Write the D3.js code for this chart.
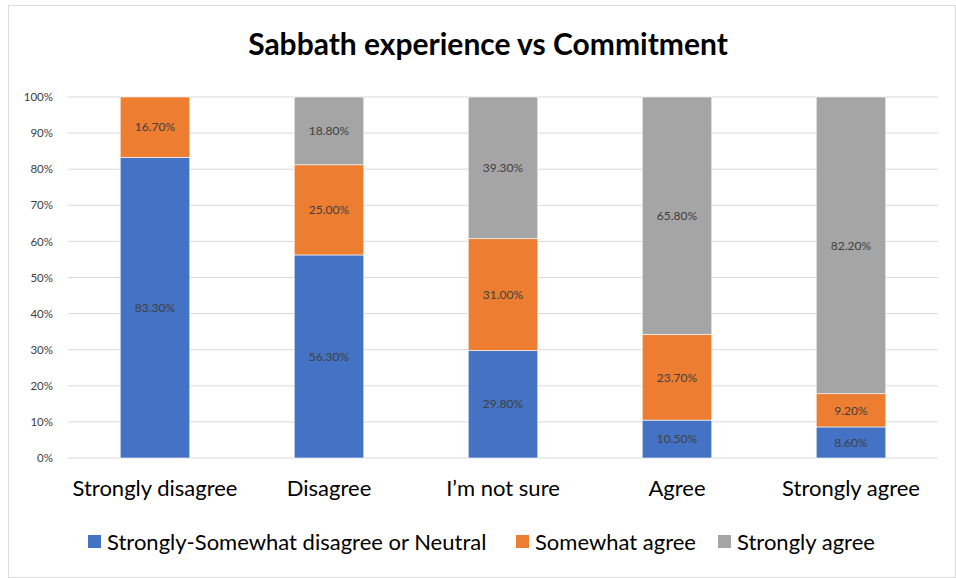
<!DOCTYPE html>
<html>
<head>
<meta charset="utf-8">
<script src="https://cdn.jsdelivr.net/npm/d3@7"></script>
<style>
  body { margin: 0; background: #fff; }
  svg { font-family: Lato, "Open Sans", sans-serif; }
</style>
</head>
<body>
<svg id="chart" width="956" height="578"></svg>
<script>
// data
var categories = ["Strongly disagree", "Disagree", "I\u2019m not sure", "Agree", "Strongly agree"];
var seriesNames = ["Strongly-Somewhat disagree or Neutral", "Somewhat agree", "Strongly agree"];
var neutralVals = [83.3, 56.3, 29.8, 10.5, 8.6];
var somewhatVals = [16.7, 25.0, 31.0, 23.7, 9.2];
var stronglyVals = [0, 18.8, 39.3, 65.8, 82.2];
var yTicks = [0, 10, 20, 30, 40, 50, 60, 70, 80, 90, 100];
var colors = ["#4472C4", "#ED7D31", "#A5A5A5"];

var svg = d3.select("#chart");
var W = 956, H = 578;
var margin = {top: 97, right: 18, bottom: 120, left: 68};

// chart border
svg.append("rect")
  .attr("x", 8.5).attr("y", 5.5)
  .attr("width", W - 9).attr("height", H - 6)
  .attr("fill", "none").attr("stroke", "#d9d9d9");

svg.append("text")
  .attr("x", 488).attr("y", 55)
  .attr("text-anchor", "middle")
  .attr("font-size", "30px").attr("font-weight", "bold")
  .attr("fill", "#000")
  .text("Sabbath experience vs Commitment");

var rows = categories.map(function (c, i) {
  return {cat: c, s0: neutralVals[i], s1: somewhatVals[i], s2: stronglyVals[i]};
});

var x = d3.scaleBand()
  .domain(categories)
  .range([margin.left, W - margin.right])
  .paddingInner(0.6).paddingOuter(0.3);

var y = d3.scaleLinear()
  .domain([0, 100])
  .range([458, margin.top]);

// grid
svg.append("g")
  .selectAll("line")
  .data(yTicks)
  .enter().append("line")
  .attr("x1", margin.left).attr("x2", W - margin.right)
  .attr("y1", function (d) { return y(d); })
  .attr("y2", function (d) { return y(d); })
  .attr("stroke", "#d9d9d9").attr("stroke-width", 1);

var yAxis = svg.append("g")
  .attr("transform", "translate(" + (margin.left - 12) + ",0)")
  .call(d3.axisLeft(y).tickValues(yTicks).tickSize(0).tickFormat(function (d) { return d + "%"; }));
yAxis.select(".domain").remove();
yAxis.selectAll("text").attr("font-size", "11.5px").attr("fill", "#404040")
  .attr("font-family", "Lato, 'Open Sans', sans-serif");

// normalise each column to 100%, like a 100% stacked chart
var keys = ["s0", "s1", "s2"];
var normRows = rows.map(function (r) {
  var t = r.s0 + r.s1 + r.s2;
  return {cat: r.cat, s0: r.s0 / t * 100, s1: r.s1 / t * 100, s2: r.s2 / t * 100,
          raw: r};
});
var stacked = d3.stack().keys(keys)(normRows);

var layer = svg.append("g").selectAll("g")
  .data(stacked)
  .enter().append("g")
  .attr("fill", function (d, i) { return colors[i]; });

layer.selectAll("rect")
  .data(function (d) { return d; })
  .enter().append("rect")
  .attr("x", function (d) { return x(d.data.cat); })
  .attr("width", x.bandwidth())
  .attr("y", function (d) { return y(d[1]); })
  .attr("height", function (d) { return y(d[0]) - y(d[1]); })
  .attr("stroke", "#fff").attr("stroke-width", 0.6);

// value labels
layer.each(function (s, si) {
  d3.select(this).selectAll("text")
    .data(s.filter(function (d) { return d.data.raw[keys[si]] > 0; }))
    .enter().append("text")
    .attr("x", function (d) { return x(d.data.cat) + x.bandwidth() / 2; })
    .attr("y", function (d) { return (y(d[0]) + y(d[1])) / 2; })
    .attr("dy", "0.35em")
    .attr("text-anchor", "middle")
    .attr("font-size", "12px")
    .attr("fill", "#404040")
    .text(function (d) { return d.data.raw[keys[si]].toFixed(2) + "%"; });
});

// category axis
var xAxis = svg.append("g")
  .attr("transform", "translate(0," + (y(0) + 19) + ")")
  .call(d3.axisBottom(x).tickSize(0));
xAxis.select(".domain").remove();
xAxis.selectAll("text").attr("font-size", "22px").attr("fill", "#000")
  .attr("font-family", "Lato, 'Open Sans', sans-serif");

// legend
var legendX = [88, 516, 718];
var legend = svg.append("g").selectAll("g")
  .data(seriesNames)
  .enter().append("g")
  .attr("transform", function (d, i) { return "translate(" + legendX[i] + ",535)"; });
legend.append("rect")
  .attr("width", 13).attr("height", 13)
  .attr("fill", function (d, i) { return colors[i]; });
legend.append("text")
  .attr("x", 19).attr("y", 7).attr("dy", "0.35em")
  .attr("font-size", "22px").attr("fill", "#000")
  .text(function (d) { return d; });
</script>
</body>
</html>
